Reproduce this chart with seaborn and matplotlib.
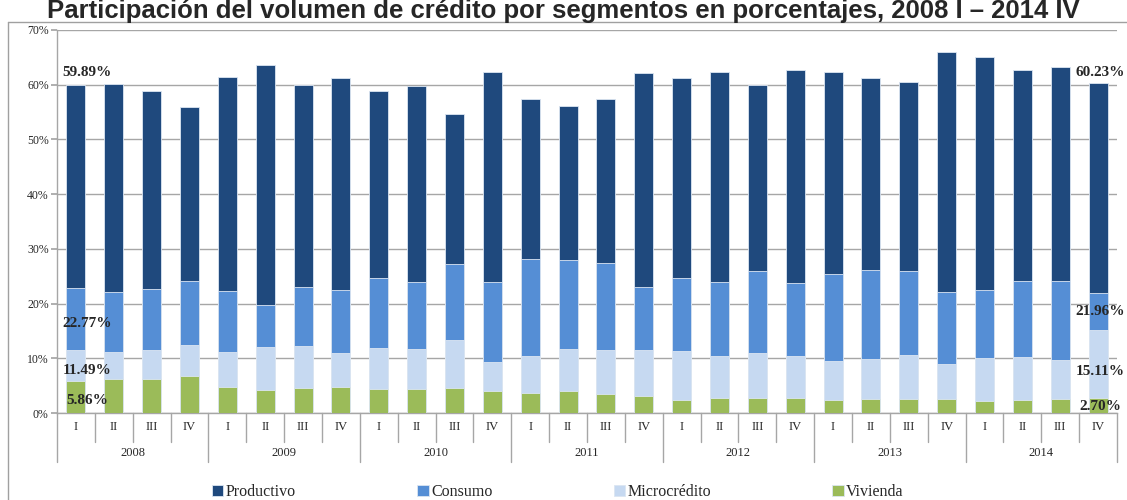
import matplotlib
matplotlib.use("Agg")
import matplotlib.pyplot as plt
import matplotlib.transforms as mtransforms
from matplotlib.lines import Line2D
import pandas as pd
import seaborn as sns

# Datos (valores acumulados, en %)
years = ["2008", "2009", "2010", "2011", "2012", "2013", "2014"]
quarters = ["I", "II", "III", "IV"]

productivo = [59.89, 60.2, 58.9, 55.9, 61.5, 63.6, 59.9, 61.3,
              58.8, 59.8, 54.6, 62.4, 57.3, 56.2, 57.4, 62.1,
              61.3, 62.4, 60.0, 62.6, 62.4, 61.2, 60.5, 66.0,
              65.0, 62.7, 63.3, 60.23]
consumo = [22.77, 22.1, 22.7, 24.2, 22.3, 19.8, 23.1, 22.4,
           24.6, 23.9, 27.2, 24.0, 28.2, 27.9, 27.4, 23.0,
           24.7, 23.9, 25.9, 23.7, 25.4, 26.1, 25.9, 22.2,
           22.5, 24.2, 24.2, 21.96]
microcredito = [11.49, 11.1, 11.6, 12.5, 11.1, 12.0, 12.2, 11.0,
                11.8, 11.7, 13.3, 9.3, 10.5, 11.7, 11.5, 11.5,
                11.3, 10.5, 10.9, 10.5, 9.5, 9.8, 10.6, 8.9,
                10.0, 10.2, 9.6, 15.11]
vivienda = [5.86, 6.2, 6.3, 6.8, 4.7, 4.2, 4.5, 4.8,
            4.4, 4.3, 4.5, 4.0, 3.7, 4.0, 3.4, 3.1,
            2.3, 2.8, 2.8, 2.8, 2.4, 2.6, 2.6, 2.5,
            2.2, 2.4, 2.6, 2.70]

series = [
    ("Productivo", productivo, "#1F497D"),
    ("Consumo", consumo, "#558ED5"),
    ("Microcrédito", microcredito, "#C6D9F1"),
    ("Vivienda", vivienda, "#9BBB59"),
]


def main():
    periods = [f"{y} {q}" for y in years for q in quarters]
    df = pd.DataFrame({"periodo": periods})
    for name, vals, _ in series:
        df[name] = vals

    sns.set_theme(style="white")
    plt.rcParams["font.family"] = ["Liberation Serif", "DejaVu Serif"]

    fig = plt.figure(figsize=(11.27, 5), dpi=100)
    ax = fig.add_axes([57 / 1127, 87 / 500, 1060 / 1127, 383 / 500])

    # barras superpuestas desde cero (valores acumulados)
    for name, vals, color in series:
        sns.barplot(data=df, x="periodo", y=name, order=periods, color=color,
                    saturation=1, width=0.5, edgecolor="#dce6f2", linewidth=0.6,
                    label=name, ax=ax, zorder=3)
    handles, labels = ax.get_legend_handles_labels()
    if ax.get_legend() is not None:
        ax.get_legend().remove()

    ax.set_xlim(-0.5, len(periods) - 0.5)
    ax.set_ylim(0, 70)
    ax.set_yticks(range(0, 71, 10))
    ax.set_yticklabels([f"{v}%" for v in range(0, 71, 10)], fontsize=8.5)
    ax.yaxis.grid(True, color="#a6a6a6", linewidth=1, zorder=0)
    ax.set_axisbelow(True)
    ax.tick_params(axis="y", length=4, color="#a6a6a6", pad=2, left=True)
    ax.set_xticks([])
    ax.set_xlabel("")
    ax.set_ylabel("")
    for side in ["top", "right"]:
        ax.spines[side].set_visible(False)
    for side in ["left", "bottom"]:
        ax.spines[side].set_color("#a6a6a6")
        ax.spines[side].set_linewidth(1)

    # eje de categorías en dos niveles
    trans = mtransforms.blended_transform_factory(ax.transData, ax.transAxes)
    for i in range(len(periods) + 1):
        bottom = -0.128 if i % 4 == 0 else -0.0757
        ax.add_line(Line2D([i - 0.5, i - 0.5], [0, bottom], transform=trans,
                           color="#a6a6a6", linewidth=1, clip_on=False))
    for i, p in enumerate(periods):
        ax.text(i, -0.037, p.split()[1], transform=trans, ha="center",
                va="center", fontsize=9)
    for j, y in enumerate(years):
        ax.text(j * 4 + 1.5, -0.104, y, transform=trans, ha="center",
                va="center", fontsize=9)

    # etiquetas de datos del primer y último período
    lab_kw = dict(ha="center", va="center", fontsize=11, fontweight="bold")
    first = [productivo[0], consumo[0], microcredito[0], vivienda[0]]
    last = [productivo[-1], consumo[-1], microcredito[-1], vivienda[-1]]
    first_y = [62.3, 16.3, 7.7, 2.2]
    last_y = [62.3, 18.5, 7.5, 1.1]
    for v, yy in zip(first, first_y):
        ax.text(0.3, yy, f"{v:.2f}%", **lab_kw)
    for v, yy in zip(last, last_y):
        ax.text(27.05, yy, f"{v:.2f}%", clip_on=False, **lab_kw)

    # leyenda
    fig.legend(handles, labels, loc="center", bbox_to_anchor=(0.495, 0.016),
               ncol=4, frameon=False, fontsize=11.5, handlelength=0.7,
               handleheight=0.7, handletextpad=0.15, columnspacing=7.6,
               borderaxespad=0)

    # título
    fig.text(0.5, 1 - 18 / 500,
             "Participación del volumen de crédito por segmentos en porcentajes, 2008 I – 2014 IV",
             ha="center", va="baseline", fontsize=18.5, fontweight="bold",
             family=["Liberation Sans", "DejaVu Sans"])

    # marco del área del gráfico
    fig.add_artist(Line2D([8 / 1127, 8 / 1127], [0, 1 - 22 / 500],
                          transform=fig.transFigure, color="#a0a0a0", linewidth=1))
    fig.add_artist(Line2D([8 / 1127, 1], [1 - 22 / 500, 1 - 22 / 500],
                          transform=fig.transFigure, color="#a0a0a0", linewidth=1))

    fig.savefig("out.png", dpi=100)


if __name__ == "__main__":
    main()
